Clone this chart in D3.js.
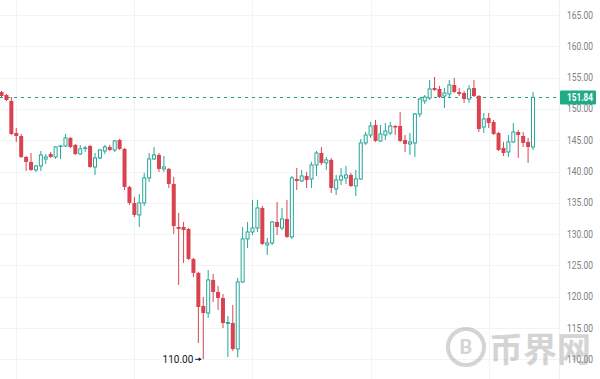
<!DOCTYPE html>
<html>
<head>
<meta charset="utf-8">
<script src="https://cdn.jsdelivr.net/npm/d3@7/dist/d3.min.js"></script>
<style>
  html, body { margin: 0; padding: 0; background: #fff; }
  svg { display: block; }
</style>
</head>
<body>
<div id="chart"></div>
<script>
const opens = [
  152.70, 152.22, 151.27, 146.15, 145.67, 142.32, 141.53, 140.25, 140.89, 142.00,
  142.80, 142.32, 144.00, 144.08, 145.36, 144.24, 142.80, 143.68, 144.08, 140.73,
  142.16, 143.28, 143.92, 143.44, 145.04, 143.60, 137.53, 134.98, 133.06, 134.98,
  138.97, 142.00, 142.64, 140.41, 140.41, 138.01, 131.14, 131.14, 130.82, 126.03,
  123.80, 118.52, 117.40, 122.68, 120.76, 119.80, 115.72, 115.80, 111.65, 122.36,
  129.23, 130.34, 130.98, 134.18, 128.27, 128.59, 131.94, 130.98, 132.42, 129.55,
  138.81, 138.49, 139.29, 138.81, 141.05, 142.96, 141.37, 141.85, 137.21, 138.65,
  138.97, 139.45, 137.69, 138.81, 144.56, 145.83, 147.43, 144.88, 145.83, 146.15,
  147.27, 147.27, 145.04, 144.40, 144.56, 149.19, 151.27, 151.74, 153.34, 153.18,
  152.06, 152.38, 153.82, 152.70, 152.54, 151.58, 153.34, 152.06, 147.11, 148.55,
  147.91, 146.15, 143.76, 143.12, 144.72, 146.31, 145.67, 144.72, 143.92
];
const highs = [
  152.86, 152.38, 151.90, 146.95, 145.99, 142.48, 142.96, 141.05, 143.28, 142.80,
  143.12, 144.08, 144.24, 145.99, 145.51, 144.40, 144.24, 144.08, 144.24, 142.96,
  143.60, 144.24, 144.24, 145.04, 145.20, 143.76, 137.69, 135.93, 136.41, 139.77,
  142.96, 143.92, 142.96, 142.48, 140.57, 139.13, 133.38, 131.94, 130.98, 126.19,
  123.96, 119.96, 124.27, 123.64, 121.72, 120.44, 116.92, 118.68, 123.00, 131.14,
  131.94, 135.46, 135.46, 134.50, 129.39, 132.10, 135.14, 134.18, 135.46, 139.29,
  140.57, 140.25, 139.93, 141.53, 143.28, 143.92, 142.32, 142.16, 139.45, 140.57,
  140.89, 139.77, 140.25, 145.20, 146.31, 147.91, 148.23, 147.43, 147.75, 147.91,
  147.43, 149.51, 145.83, 146.15, 149.35, 151.74, 152.22, 154.62, 155.10, 153.66,
  153.34, 154.62, 154.94, 153.34, 152.86, 153.82, 154.62, 152.22, 149.35, 149.35,
  148.23, 146.31, 144.72, 145.83, 147.75, 146.63, 146.31, 145.36, 152.70
];
const lows = [
  151.90, 151.27, 145.83, 144.72, 142.16, 140.09, 140.09, 139.93, 140.09, 141.21,
  142.16, 142.00, 142.00, 143.92, 143.76, 142.64, 142.64, 143.12, 140.57, 139.45,
  142.00, 142.80, 143.28, 143.12, 143.44, 137.05, 134.66, 132.74, 131.14, 134.50,
  138.33, 141.85, 139.93, 139.93, 137.37, 130.02, 121.88, 125.39, 125.87, 123.16,
  112.61, 110.00, 116.60, 119.16, 117.88, 115.00, 110.37, 111.33, 110.30, 122.20,
  127.79, 129.86, 130.34, 128.27, 126.67, 128.27, 129.86, 130.66, 129.39, 129.23,
  137.05, 138.33, 137.37, 137.37, 139.29, 141.05, 140.25, 136.57, 136.25, 137.85,
  138.01, 137.53, 136.09, 138.65, 144.24, 145.36, 144.72, 144.72, 145.04, 145.83,
  145.83, 144.72, 143.12, 142.64, 142.32, 148.71, 150.79, 151.42, 152.86, 151.74,
  150.15, 151.90, 152.54, 152.06, 150.95, 150.95, 151.90, 146.31, 146.15, 146.95,
  145.83, 143.28, 142.48, 142.32, 144.56, 142.16, 143.92, 141.37, 143.44
];
const closes = [
  152.06, 151.42, 145.99, 145.67, 142.32, 141.53, 140.25, 140.89, 142.64, 142.32,
  142.32, 143.92, 144.08, 145.36, 143.92, 142.80, 143.60, 143.76, 140.73, 142.16,
  143.44, 143.92, 143.44, 144.88, 143.60, 137.53, 134.98, 133.06, 134.98, 138.97,
  142.00, 142.64, 140.41, 140.73, 138.01, 131.30, 130.82, 130.66, 126.03, 123.80,
  118.36, 117.40, 122.68, 120.76, 119.80, 115.80, 115.88, 111.65, 122.36, 129.23,
  130.34, 130.98, 134.18, 128.43, 128.59, 131.94, 131.14, 132.42, 129.55, 138.97,
  138.49, 139.29, 138.65, 141.05, 142.96, 141.37, 141.85, 137.37, 138.65, 139.29,
  139.45, 137.69, 138.81, 144.56, 145.83, 147.27, 144.88, 145.99, 146.47, 147.27,
  147.03, 144.88, 144.40, 144.72, 149.19, 151.58, 151.90, 153.18, 153.02, 151.90,
  152.54, 153.82, 152.70, 152.38, 151.58, 153.18, 152.06, 146.79, 148.39, 147.75,
  145.99, 143.44, 142.96, 144.72, 146.31, 145.83, 144.56, 143.92, 151.84
];
const priceTicks = [110, 115, 120, 125, 130, 135, 140, 145, 150, 155, 160, 165];
const timeGridIndex = [3, 27, 51, 75, 99];
const lastPrice = 151.84;
const watermarkText = '币界网';

const WIDTH = 600;
const HEIGHT = 379;
const PLOT_RIGHT = 559;
const FIRST_X = 1.5;
const LAST_X = 533;
const LABEL_X = 567;
const LABEL_WIDTH = 26;
const UP_COLOR = '#26a69a';
const DOWN_COLOR = '#d9434f';
const TAG_COLOR = '#1eab87';
const GRID_COLOR = '#f2f3f5';
const LABEL_COLOR = '#7b7e87';
const FONT = 'Roboto, "Noto Sans", sans-serif';

const candles = opens.map((o, i) => ({ i, open: o, high: highs[i], low: lows[i], close: closes[i] }));

const x = d3.scalePoint().domain(d3.range(candles.length)).range([FIRST_X, LAST_X]);
const y = d3.scaleLinear().domain([110, 165]).range([359.3, 15]);

const svg = d3.create('svg')
  .attr('width', WIDTH)
  .attr('height', HEIGHT)
  .attr('viewBox', [0, 0, WIDTH, HEIGHT])
  .style('font-family', FONT);

svg.append('rect').attr('width', WIDTH).attr('height', HEIGHT).attr('fill', '#fff');

drawGrid();
drawLastPriceLine();
drawCandles();
drawPriceAxis();
drawLowMarker();
drawWatermark();

document.getElementById('chart').appendChild(svg.node());

function drawGrid() {
  const grid = svg.append('g');
  grid.selectAll('.h')
    .data(priceTicks)
    .join('line')
    .attr('x1', 0)
    .attr('x2', PLOT_RIGHT)
    .attr('y1', (d) => Math.round(y(d)) + 0.5)
    .attr('y2', (d) => Math.round(y(d)) + 0.5)
    .attr('stroke', GRID_COLOR);
  grid.selectAll('.v')
    .data(timeGridIndex)
    .join('line')
    .attr('x1', (d) => Math.round(x(d)) + 0.5)
    .attr('x2', (d) => Math.round(x(d)) + 0.5)
    .attr('y1', 0)
    .attr('y2', HEIGHT)
    .attr('stroke', GRID_COLOR);
  // axis border
  grid.append('line')
    .attr('x1', PLOT_RIGHT + 0.5)
    .attr('x2', PLOT_RIGHT + 0.5)
    .attr('y1', 0)
    .attr('y2', HEIGHT)
    .attr('stroke', '#eef0f3');
}

function drawLastPriceLine() {
  svg.append('line')
    .attr('x1', 0)
    .attr('x2', PLOT_RIGHT)
    .attr('y1', Math.round(y(lastPrice)) + 0.5)
    .attr('y2', Math.round(y(lastPrice)) + 0.5)
    .attr('stroke', '#1f9e8a')
    .attr('stroke-dasharray', '3,4');
}

function drawCandles() {
  const g = svg.append('g');
  const candle = g.selectAll('g').data(candles).join('g');

  candle.append('line')
    .attr('x1', (d) => x(d.i))
    .attr('x2', (d) => x(d.i))
    .attr('y1', (d) => y(d.high))
    .attr('y2', (d) => y(d.low))
    .attr('stroke', (d) => (d.close >= d.open ? UP_COLOR : DOWN_COLOR))
    .attr('stroke-width', 1);

  candle.filter((d) => d.close < d.open)
    .append('rect')
    .attr('x', (d) => x(d.i) - 2)
    .attr('width', 4)
    .attr('y', (d) => y(d.open))
    .attr('height', (d) => Math.max(1, y(d.close) - y(d.open)))
    .attr('fill', DOWN_COLOR);

  candle.filter((d) => d.close >= d.open)
    .append('rect')
    .attr('x', (d) => x(d.i) - 1.5)
    .attr('width', 3)
    .attr('y', (d) => y(d.close))
    .attr('height', (d) => Math.max(0.5, y(d.open) - y(d.close)))
    .attr('fill', '#fff')
    .attr('stroke', UP_COLOR)
    .attr('stroke-width', 1);
}

function drawPriceAxis() {
  const axis = svg.append('g');
  axis.selectAll('text')
    .data(priceTicks)
    .join('text')
    .attr('x', LABEL_X)
    .attr('y', (d) => y(d))
    .attr('dy', '0.35em')
    .attr('font-size', '10px')
    .attr('textLength', LABEL_WIDTH)
    .attr('lengthAdjust', 'spacingAndGlyphs')
    .attr('fill', LABEL_COLOR)
    .text((d) => d.toFixed(2));

  const tagY = y(lastPrice);
  axis.append('rect')
    .attr('x', PLOT_RIGHT + 1)
    .attr('y', tagY - 7)
    .attr('width', 36)
    .attr('height', 14)
    .attr('rx', 1)
    .attr('fill', TAG_COLOR);
  axis.append('text')
    .attr('x', LABEL_X)
    .attr('y', tagY)
    .attr('dy', '0.35em')
    .attr('font-size', '10px')
    .attr('font-weight', 700)
    .attr('textLength', LABEL_WIDTH)
    .attr('lengthAdjust', 'spacingAndGlyphs')
    .attr('fill', '#fff')
    .text(lastPrice.toFixed(2));
}

function drawLowMarker() {
  const lowest = d3.least(candles, (d) => d.low);
  const lx = x(lowest.i);
  const ly = y(lowest.low);
  const g = svg.append('g').attr('fill', '#131722').attr('stroke', '#131722');
  g.append('text')
    .attr('x', lx - 10)
    .attr('y', ly)
    .attr('dy', '0.35em')
    .attr('text-anchor', 'end')
    .attr('font-size', '10px')
    .attr('stroke', 'none')
    .text(lowest.low.toFixed(2));
  g.append('line')
    .attr('x1', lx - 8)
    .attr('x2', lx - 2)
    .attr('y1', ly)
    .attr('y2', ly)
    .attr('stroke-width', 1);
  g.append('path')
    .attr('d', `M${lx - 2},${ly} l-2.5,-2 v4 z`)
    .attr('stroke', 'none');
}

function drawWatermark() {
  const g = svg.append('g').attr('opacity', 0.42);
  const cx = 466;
  const cy = 347;
  g.append('circle')
    .attr('cx', cx)
    .attr('cy', cy)
    .attr('r', 18)
    .attr('fill', 'none')
    .attr('stroke', '#9a9a9a')
    .attr('stroke-width', 4);
  g.append('text')
    .attr('x', cx)
    .attr('y', cy)
    .attr('dy', '0.36em')
    .attr('text-anchor', 'middle')
    .attr('font-size', '20px')
    .attr('font-weight', 700)
    .attr('fill', '#9a9a9a')
    .text('B');
  g.append('text')
    .attr('x', 489)
    .attr('y', 362)
    .attr('font-family', '"Noto Sans CJK SC", sans-serif')
    .attr('font-size', '34px')
    .attr('font-weight', 700)
    .attr('fill', '#9a9a9a')
    .text(watermarkText);
}
</script>
</body>
</html>
